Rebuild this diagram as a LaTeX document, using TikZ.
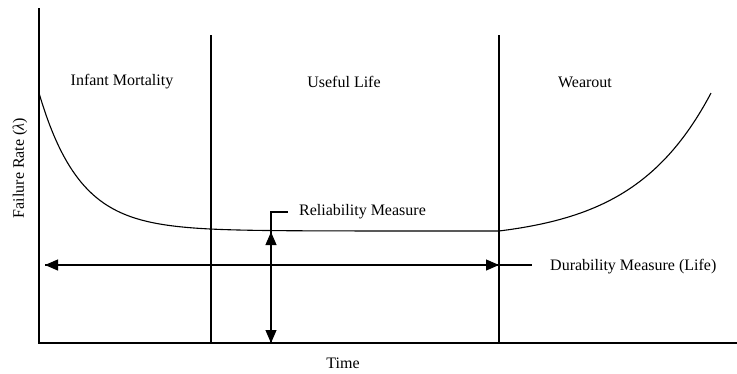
\documentclass[tikz,border=0pt]{standalone}
\usepackage{fontspec}
\setmainfont{Liberation Serif}
\usetikzlibrary{arrows.meta}
\tikzset{
  axis/.style={line width=1.6pt},
  divider/.style={line width=1.1pt},
  curve/.style={line width=1.1pt},
  measure/.style={line width=1.1pt},
  tip/.style={-{Triangle[length=13pt,width=11pt]}},
  lbl/.style={inner sep=0pt, font=\fontsize{16}{19}\selectfont}
}
\begin{document}
\begin{tikzpicture}[x=1pt,y=-1pt]
\useasboundingbox (0,0) rectangle (737,373);
% axes
\coordinate (origin) at (39,343);
\coordinate (ytop) at (39,8);
\coordinate (xend) at (737,343);
\draw[axis] (ytop) -- (origin) -- (xend);
% phase dividers
\coordinate (d1top) at (211,35);
\coordinate (d1bot) at (211,343);
\coordinate (d2top) at (499,35);
\coordinate (d2bot) at (499,343);
\draw[divider] (d1top) -- (d1bot);
\draw[divider] (d2top) -- (d2bot);
% bathtub curve
\draw[curve] plot[domain=39:711, samples=200, smooth]
  (\x, {231 - 138*exp(-(\x-39)/40.5) - 9.75*(exp(max(\x-499,0)/78)-1)});
% phase labels
\node[lbl] (infant) at (122,82) {Infant Mortality};
\node[lbl] (useful) at (344,82) {Useful Life};
\node[lbl] (wear) at (585,82) {Wearout};
% axis labels
\node[lbl, rotate=90] (ylab) at (20,168) {Failure Rate (\textit{λ})};
\node[lbl] (xlab) at (343,363) {Time};
% durability measure
\coordinate (durL) at (45,265);
\coordinate (durR) at (499,265);
\coordinate (durEnd) at (532,265);
\draw[measure, tip] (durR) -- (durL);
\draw[measure, tip] (durL) -- (durR);
\draw[measure] (durR) -- (durEnd);
\node[lbl, anchor=west] (durlab) at (550,267) {Durability Measure (Life)};
% reliability measure
\coordinate (relTop) at (271,232);
\coordinate (relBot) at (271,343);
\coordinate (relKnee) at (271,212);
\coordinate (relEnd) at (288,212);
\draw[measure, tip] (relTop) -- (relBot);
\draw[measure, tip] (relBot) -- (relTop);
\draw[measure] (relTop) -- (relKnee) -- (relEnd);
\node[lbl, anchor=west] (rellab) at (299,212) {Reliability Measure};
\end{tikzpicture}
\end{document}
